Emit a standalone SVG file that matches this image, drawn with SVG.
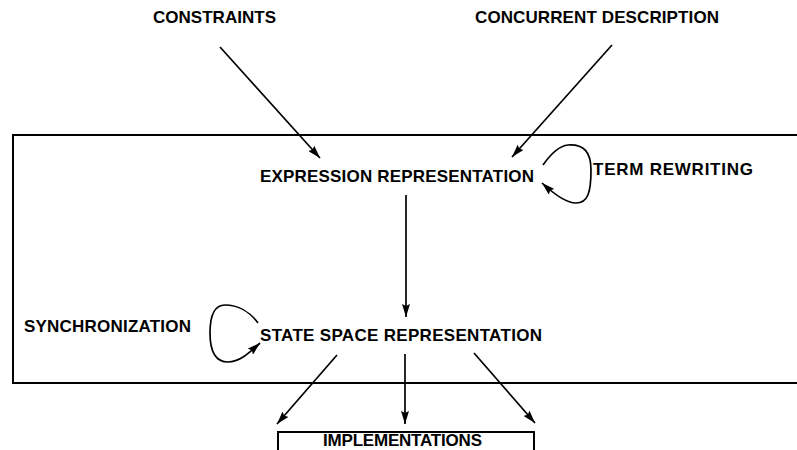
<svg xmlns="http://www.w3.org/2000/svg" width="797" height="450" viewBox="0 0 797 450">
<defs>
<marker id="ah" viewBox="0 0 13 8" refX="13" refY="4" markerWidth="13" markerHeight="8" markerUnits="userSpaceOnUse" orient="auto">
<path d="M0,0 L13,4 L0,8 L2,4 Z" fill="#000"/>
</marker>
<style>
text{font-family:"Liberation Sans",Arial,sans-serif;font-weight:bold;font-size:17px;fill:#000}
.c{fill:none;stroke:#000;stroke-width:1.7}
.frame{fill:none;stroke:#000;stroke-width:2}
</style>
</defs>
<rect width="797" height="450" fill="#fff"/>
<g id="frame"><path class="frame" d="M800,135 H13 V383 H800"/></g>
<g id="constraints"><text x="153" y="23" textLength="123" lengthAdjust="spacing">CONSTRAINTS</text></g>
<g id="concurrent"><text x="475" y="23" textLength="244" lengthAdjust="spacing">CONCURRENT DESCRIPTION</text></g>
<g id="expression"><text x="260" y="182" textLength="274" lengthAdjust="spacing">EXPRESSION REPRESENTATION</text></g>
<g id="term"><text x="593" y="175" textLength="160" lengthAdjust="spacing">TERM REWRITING</text></g>
<g id="sync"><text x="24" y="332" textLength="167" lengthAdjust="spacing">SYNCHRONIZATION</text></g>
<g id="statespace"><text x="260" y="341" textLength="282" lengthAdjust="spacing">STATE SPACE REPRESENTATION</text></g>
<g id="impl"><path class="frame" d="M278,452 V432 H534 V452"/><text x="323" y="446" textLength="159" lengthAdjust="spacing">IMPLEMENTATIONS</text></g>
<g id="connectors">
<path class="c" d="M220,47 L320,158" marker-end="url(#ah)"/>
<path class="c" d="M612,45 L512,157" marker-end="url(#ah)"/>
<path class="c" d="M543,165 C550,155 558,146 568,145 C584,144 591,152 591,170 C591,192 588,203 576,203 C566,203 555,195 542,183" marker-end="url(#ah)"/>
<path class="c" d="M406,195 L406,317" marker-end="url(#ah)"/>
<path class="c" d="M258,323 C250,312 238,305 225,305 C213,305 210,318 210,333 C210,352 216,362 228,362 C240,362 250,352 260,343" marker-end="url(#ah)"/>
<path class="c" d="M337,355 L277,424" marker-end="url(#ah)"/>
<path class="c" d="M405,354 L405,424" marker-end="url(#ah)"/>
<path class="c" d="M474,353 L535,423" marker-end="url(#ah)"/>
</g>
</svg>
